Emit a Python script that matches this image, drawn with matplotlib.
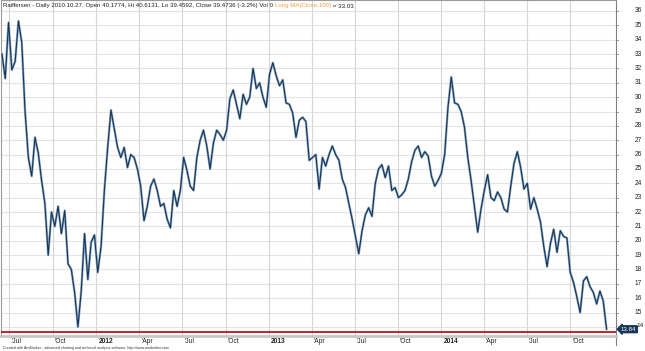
import pandas as pd
import matplotlib
matplotlib.use('Agg')
import matplotlib.pyplot as plt

# weekly closes (Raiffeisen, mid 2011 - Dec 2014)
start_date = '2011-06-15'
closes = [
    33.0, 31.3, 35.2, 31.9, 32.5, 35.3, 33.8, 29.0, 25.8, 24.5,
    27.2, 26.1, 24.2, 22.6, 19.0, 22.0, 21.0, 22.4, 20.5, 22.1,
    18.4, 18.0, 16.4, 14.0, 16.5, 20.5, 17.3, 19.9, 20.4, 17.8,
    19.6, 23.5, 26.5, 29.1, 27.8, 26.5, 25.8, 26.5, 25.1, 26.0,
    25.8, 25.0, 23.8, 21.4, 22.4, 23.8, 24.3, 23.5, 22.4, 22.6,
    21.5, 20.9, 23.5, 22.4, 23.5, 25.8, 24.9, 23.8, 23.5, 25.8,
    27.0, 27.7, 26.6, 25.0, 26.8, 27.7, 27.4, 27.0, 27.7, 29.9,
    30.5, 29.5, 28.5, 30.2, 29.5, 30.0, 32.0, 30.6, 31.0, 30.0,
    29.3, 31.6, 32.4, 31.5, 30.8, 31.2, 29.6, 29.5, 28.9, 27.2,
    28.4, 28.6, 28.3, 25.6, 25.8, 26.0, 23.6, 25.8, 25.2, 26.0,
    26.6, 26.0, 25.6, 24.3, 23.7, 22.6, 21.5, 20.3, 19.1, 20.7,
    21.8, 22.3, 21.7, 24.0, 25.0, 25.3, 24.4, 25.2, 23.5, 23.7,
    23.0, 23.2, 23.5, 24.3, 25.5, 26.3, 26.6, 25.8, 26.2, 25.9,
    24.5, 23.8, 24.2, 24.7, 26.0, 29.3, 31.4, 29.6, 29.5, 29.0,
    27.9, 25.8, 24.2, 22.4, 20.6, 22.2, 23.5, 24.6, 23.0, 22.8,
    23.4, 23.0, 22.2, 22.0, 23.8, 25.4, 26.2, 25.1, 23.6, 24.0,
    22.2, 23.0, 22.2, 21.3, 19.6, 18.2, 19.8, 20.8, 19.2, 20.7,
    20.3, 20.2, 17.8, 17.1, 16.1, 15.0, 17.2, 17.5, 16.8, 16.4,
    15.6, 16.5, 15.8, 13.84,
]
dates = pd.date_range(start_date, periods=len(closes), freq='7D')
prices = pd.Series(closes, index=dates)

red_level = 13.63
y_ticks = list(range(14, 37))
quarter_starts = pd.date_range('2011-07-01', '2014-10-01', freq='QS')

title_main = ('Raiffersen - Daily 2010.10.27. Open 40.1774, Hi 40.6131, '
              'Lo 39.4592, Close 39.4736 (-3.2%) Vol 0 ')
title_ma = 'Long MA(Close,100)'
title_val = ' = 33.03'
credits = ('Created with AmiBroker - advanced charting and technical analysis '
           'software. http://www.amibroker.com')

plt.rcParams['font.family'] = ['Liberation Sans', 'DejaVu Sans']

W, H = 645, 351
fig = plt.figure(figsize=(W / 100, H / 100), dpi=100)
ax = fig.add_axes([1 / W, (H - 336) / H, 615 / W, 336 / H])

# y scale: 36 at y=11px, 14 at y=327px
px_per_unit = 14.36
ax.set_ylim(36 - (336 - 11) / px_per_unit, 36 + 11 / px_per_unit)
x_lo = pd.Timestamp('2011-10-01') - pd.Timedelta(days=int(51.7 / 0.468))
x_hi = pd.Timestamp('2011-10-01') + pd.Timedelta(days=int((616 - 52.7) / 0.472))
ax.set_xlim(x_lo, x_hi)

# grid
for v in y_ticks:
    ax.axhline(v, color='#e4e4e4', lw=0.8, zorder=0)
for d in quarter_starts:
    ax.axvline(d, color='#d6d6d6', lw=0.8, zorder=0)

# price band: light under dark to look like OHLC bars
ax.plot(prices.index, prices.values, color='#8ea9c4', lw=1.7, zorder=2)
ax.plot(prices.index, prices.values, color='#163657', lw=0.8, zorder=3)

ax.axhline(red_level, color='#c0101a', lw=1.3, zorder=4)

for s in ['top', 'left']:
    ax.spines[s].set_color('#9a9a9a')
    ax.spines[s].set_linewidth(0.8)
ax.spines['bottom'].set_color('#c8c8c8')
ax.spines['bottom'].set_linewidth(2)
ax.spines['right'].set_color('#808080')
ax.spines['right'].set_linewidth(0.8)
ax.set_xticks([])
ax.set_yticks([])

# right side price labels
for v in y_ticks:
    if v == 14:
        continue
    ax.annotate(str(v), xy=(1, v), xycoords=('axes fraction', 'data'),
                xytext=(13.5, 0), textcoords='offset points', fontsize=4.8,
                va='center', ha='left', color='#222222', annotation_clip=False)
    ax.plot([1, 1.004], [v, v], transform=ax.get_yaxis_transform(),
            color='#808080', lw=0.6, clip_on=False)

# last value tag
ax.annotate('14', xy=(1, 14), xycoords=('axes fraction', 'data'),
            xytext=(14.5, 1), textcoords='offset points', fontsize=4.6,
            va='center', ha='left', color='#222222', annotation_clip=False)
ax.annotate('%.2f' % closes[-1], xy=(1, closes[-1]),
            xycoords=('axes fraction', 'data'),
            xytext=(3.5, 0), textcoords='offset points', fontsize=4.4,
            va='center', ha='left', color='white', annotation_clip=False,
            bbox=dict(boxstyle='larrow,pad=0.15', fc='#163657', ec='#163657'))

# x axis labels below the axes
ax.plot([1, 1], [0, -9 / 336], transform=ax.transAxes, color='#808080',
        lw=0.8, clip_on=False)
for d in quarter_starts:
    is_year = d.month == 1
    lab = str(d.year) if is_year else "'" + d.strftime('%b')
    ax.annotate(lab, xy=(d, 0), xycoords=('data', 'axes fraction'),
                xytext=(1.5, -4.2), textcoords='offset points', fontsize=4.8,
                fontweight='bold' if is_year else 'normal',
                va='center', ha='left', color='#222222', annotation_clip=False)

# title line
fs = 4.4
t1 = fig.text(3 / W, 1 - 6 / H, title_main, fontsize=fs, color='#222222',
              va='center', ha='left')
fig.canvas.draw()
bb = t1.get_window_extent()
t2 = fig.text(bb.x1 / W, 1 - 6 / H, title_ma, fontsize=fs, color='#f0a040',
              va='center', ha='left')
fig.canvas.draw()
bb2 = t2.get_window_extent()
fig.text(bb2.x1 / W, 1 - 6 / H, title_val, fontsize=fs, color='#222222',
         va='center', ha='left')

fig.text(3 / W, 1 - 348 / H, credits, fontsize=2.65, color='#333333',
         va='center', ha='left')

fig.savefig('out.png', dpi=100)
